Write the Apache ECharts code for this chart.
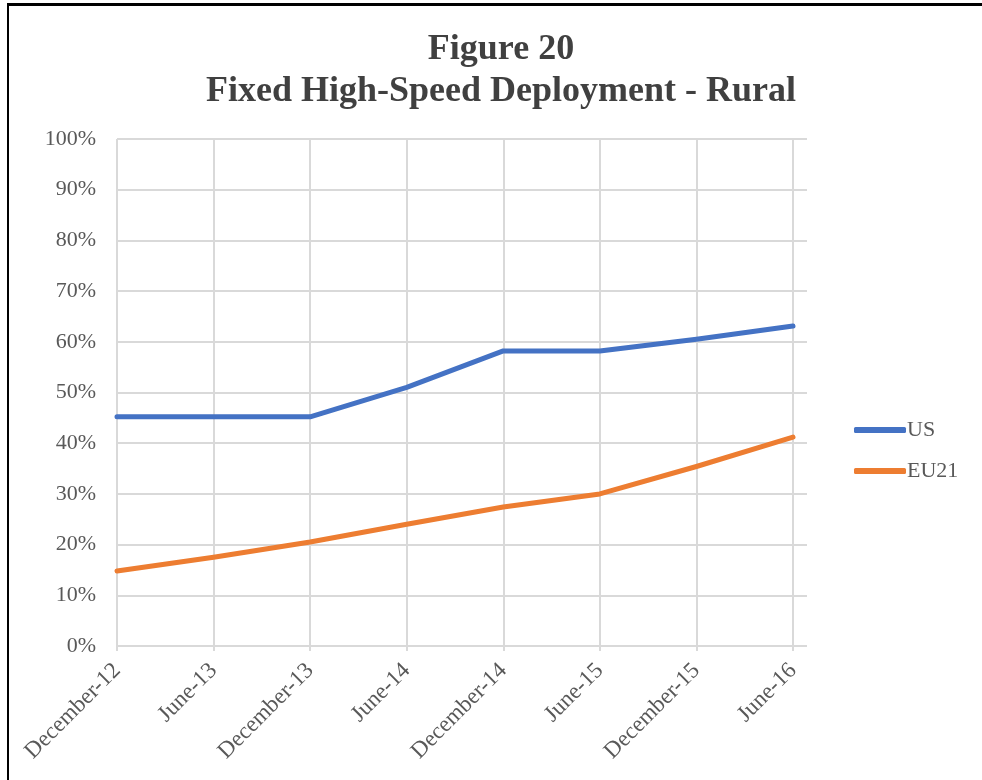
<!DOCTYPE html>
<html>
<head>
<meta charset="utf-8">
<script src="https://cdn.jsdelivr.net/npm/echarts@6/dist/echarts.min.js"></script>
<style>
  html, body { margin: 0; padding: 0; background: #fff; overflow: hidden; }
  #frame {
    position: absolute; left: 7px; top: 3px; width: 975px; height: 777px;
    border-left: 2px solid #000; border-top: 3px solid #000; box-sizing: border-box;
  }
  #chart { position: absolute; left: 0; top: 0; width: 982px; height: 780px; }
</style>
</head>
<body>
<div id="frame"></div>
<div id="chart"></div>
<script>
const categories = ['December-12', 'June-13', 'December-13', 'June-14', 'December-14', 'June-15', 'December-15', 'June-16'];
const usValues = [0.452, 0.452, 0.452, 0.51, 0.582, 0.582, 0.605, 0.631];
const eu21Values = [0.148, 0.175, 0.205, 0.24, 0.274, 0.30, 0.354, 0.412];
const yTicks = ['0%', '10%', '20%', '30%', '40%', '50%', '60%', '70%', '80%', '90%', '100%'];

const font = 'Liberation Serif';
const textGrey = '#595959';
const gridGrey = '#d9d9d9';

const chart = echarts.init(document.getElementById('chart'));

const options = {
  animation: false,
  title: {
    text: 'Figure 20\nFixed High-Speed Deployment - Rural',
    left: 496,
    top: 24,
    textAlign: 'center',
    textStyle: {
      fontFamily: font, fontWeight: 'bold', fontSize: 36,
      lineHeight: 42, color: '#404040'
    }
  },
  legend: {
    orient: 'vertical',
    left: 849,
    top: 414,
    itemWidth: 52,
    itemHeight: 6,
    itemGap: 19,
    icon: 'roundRect',
    textStyle: { fontFamily: font, fontSize: 22, color: textGrey, padding: [0, 0, 0, -4] },
    data: ['US', 'EU21']
  },
  // grid 0 carries the horizontal gridlines (they run a bit past the last category)
  // grid 1 carries the category axis and the lines
  grid: [
    { left: 117, right: 982 - 807, top: 139, bottom: 780 - 646 },
    { left: 117, right: 982 - 793, top: 139, bottom: 780 - 646 }
  ],
  xAxis: [
    { gridIndex: 0, type: 'value', min: 0, max: 1, show: false },
    {
      gridIndex: 1,
      type: 'category',
      data: categories,
      boundaryGap: false,
      axisLine: { show: false },
      axisTick: { show: true, length: 5, lineStyle: { color: gridGrey, width: 2 } },
      splitLine: { show: true, lineStyle: { color: gridGrey, width: 2 } },
      axisLabel: {
        rotate: 45, margin: 21, interval: 0,
        fontFamily: font, fontSize: 23, color: textGrey
      }
    }
  ],
  yAxis: [
    {
      gridIndex: 0,
      type: 'value',
      min: 0, max: 1, interval: 0.1,
      axisLine: { show: false },
      axisTick: { show: false },
      splitLine: { show: true, lineStyle: { color: gridGrey, width: 2 } },
      axisLabel: {
        margin: 21,
        fontFamily: font, fontSize: 22, color: textGrey,
        formatter: v => yTicks[Math.round(v * 10)]
      }
    },
    { gridIndex: 1, type: 'value', min: 0, max: 1, show: false }
  ],
  series: [
    {
      name: 'US', type: 'line', xAxisIndex: 1, yAxisIndex: 1,
      data: usValues, symbol: 'none',
      lineStyle: { color: '#4472C4', width: 5, cap: 'round', join: 'round' },
      itemStyle: { color: '#4472C4' }
    },
    {
      name: 'EU21', type: 'line', xAxisIndex: 1, yAxisIndex: 1,
      data: eu21Values, symbol: 'none',
      lineStyle: { color: '#ED7D31', width: 5, cap: 'round', join: 'round' },
      itemStyle: { color: '#ED7D31' }
    }
  ]
};

chart.setOption(options);
</script>
</body>
</html>
